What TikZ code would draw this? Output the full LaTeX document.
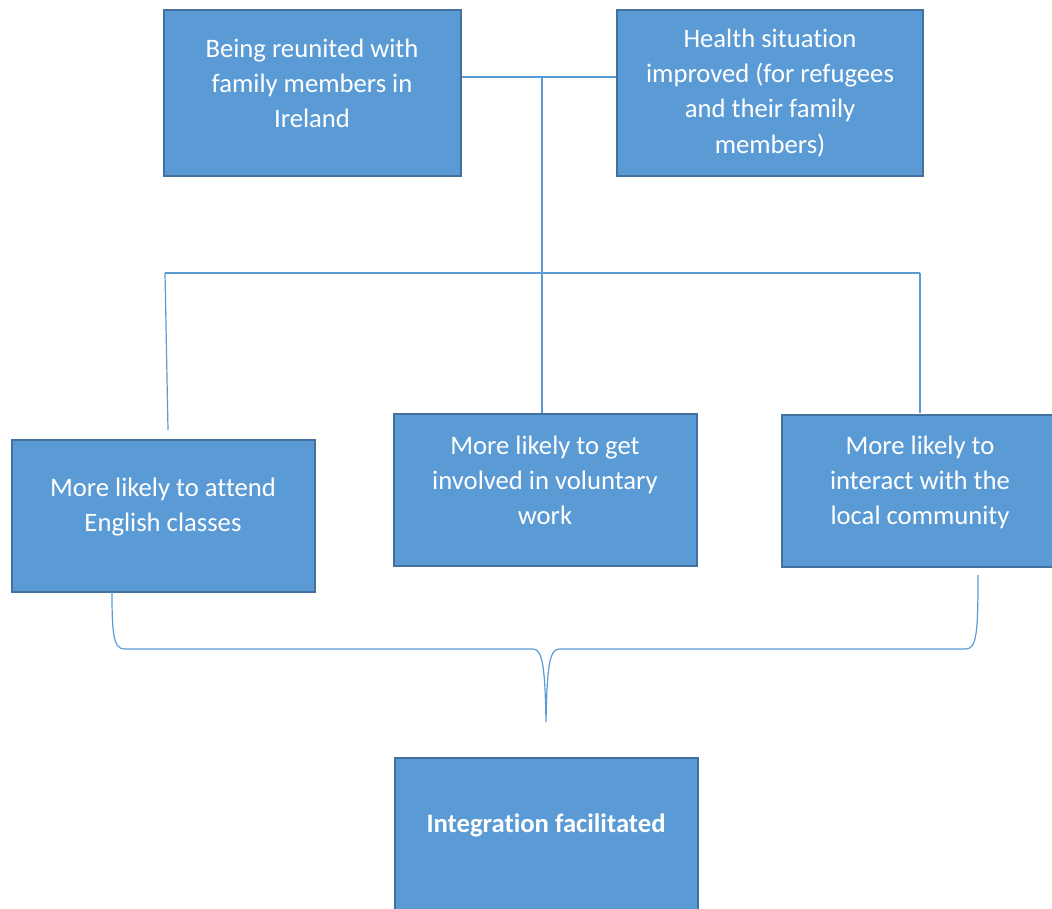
\documentclass[tikz,border=0pt]{standalone}
\usepackage{fontspec}
\setmainfont{Carlito}[Ligatures={NoCommon}]
\usetikzlibrary{fit}
\definecolor{boxfill}{HTML}{5B9BD5}
\definecolor{boxedge}{HTML}{41719C}
\definecolor{linkcol}{HTML}{5B9BD5}

\begin{document}
\begin{tikzpicture}[x=0.75pt, y=-0.75pt,
        box/.style={draw=boxedge, line width=1.6pt, fill=boxfill, inner sep=0pt},
        txt/.style={text=white, align=center, font=\fontsize{20}{26.3}\selectfont, inner sep=0pt},
        link/.style={draw=linkcol, line width=0.9pt}]
        \useasboundingbox (0,0) rectangle (1052,909);
        \clip (0,0) rectangle (1052,909);
        % boxes
        \node[box, fit={(164,10) (461,176)}] (reunite) {};
        \node[box, fit={(617,10) (923,176)}] (health) {};
        \node[box, fit={(12,440) (315,592)}] (english) {};
        \node[box, fit={(394,414) (697,566)}] (voluntary) {};
        \node[box, fit={(782,415) (1070,567)}] (community) {};
        \node[box, fit={(395,758) (698,940)}] (integ) {};
        % texts
        \node[txt] (reunitetxt) at (312,83) {Being reunited with\\family members in\\Ireland};
        \node[txt] (healthtxt) at (770,93) {Health situation\\improved (for refugees\\and their family\\members)};
        \node[txt] (englishtxt) at (163,507) {More likely to attend\\English classes};
        \node[txt] (voluntarytxt) at (545,480.5) {More likely to get\\involved in voluntary\\work};
        \node[txt] (communitytxt) at (920,482) {More likely to\\interact with the\\local community};
        \node[txt, font=\fontsize{20}{26.3}\selectfont\bfseries] (integtxt) at (546,825) {Integration facilitated};
        % tree lines
        \coordinate (hub) at (542,77);
        \coordinate (split) at (542,273);
        \coordinate (splitl) at (165,273);
        \coordinate (splitr) at (920,273);
        \coordinate (endl) at (168,430);
        \coordinate (endm) at (542,413);
        \coordinate (endr) at (920,413);
        \draw[link] (reunite.east |- hub) -- (health.west |- hub);
        \draw[link] (hub) -- (split);
        \draw[link] (splitl) -- (splitr);
        \draw[link] (splitl) -- (endl);
        \draw[link] (split) -- (endm);
        \draw[link] (splitr) -- (endr);
        % brace
        \coordinate (bracel) at (112,592);
        \coordinate (bracer) at (978,575);
        \coordinate (tip) at (546,722);
        \draw[link] (bracel) .. controls (112,630) and (113,649) .. (124,649)
            -- (533,649) .. controls (543,649) and (545,670) .. (tip)
            .. controls (547,670) and (549,649) .. (559,649)
            -- (966,649) .. controls (977,649) and (978,630) .. (bracer);
\end{tikzpicture}
\end{document}
